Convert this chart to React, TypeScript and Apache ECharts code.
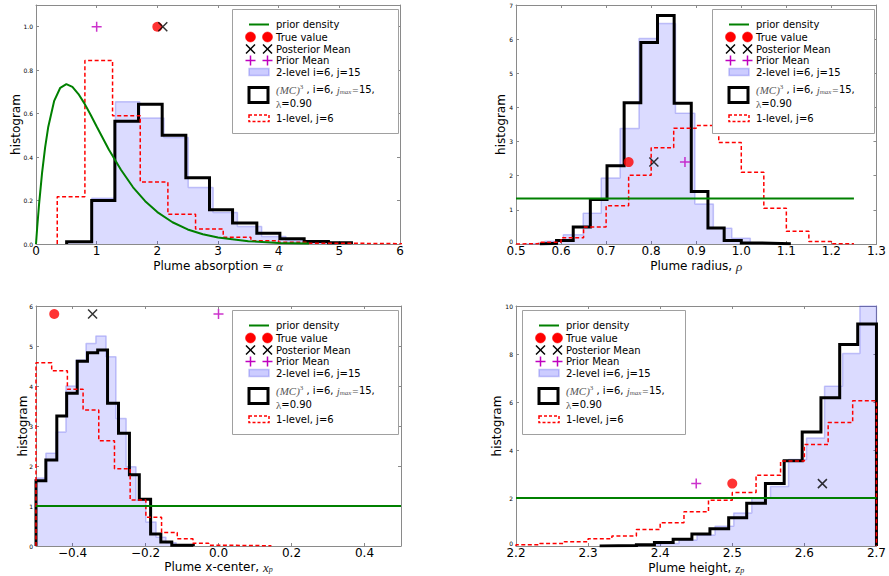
import React, { useEffect, useRef } from "react";
import * as echarts from "echarts";

// ---------------- Panel 1: Plume absorption ----------------
const absXTicks = [0, 1, 2, 3, 4, 5, 6];
const absYTicks = [0, 0.2, 0.4, 0.6, 0.8, 1.0];
const absPriorX = [0, 0.02, 0.05, 0.1, 0.15, 0.2, 0.3, 0.4, 0.5, 0.6, 0.7, 0.8, 0.9, 1.0, 1.2, 1.4, 1.6, 1.8, 2.0, 2.25, 2.5, 2.75, 3.0, 3.5, 4.0, 4.5];
const absPriorY = [0, 0.077, 0.181, 0.327, 0.444, 0.536, 0.659, 0.719, 0.736, 0.723, 0.69, 0.646, 0.595, 0.541, 0.435, 0.342, 0.261, 0.197, 0.147, 0.1, 0.067, 0.045, 0.03, 0.013, 0.005, 0.002];
const absBlueEdges = [0.52, 0.918, 1.31, 1.71, 2.11, 2.51, 2.92, 3.32, 3.72, 4.12, 4.52, 4.92];
const absBlueH = [0.01, 0.21, 0.655, 0.58, 0.49, 0.26, 0.145, 0.08, 0.035, 0.015, 0.005];
const absBlackEdges = [0.505, 0.918, 1.3, 1.69, 2.08, 2.47, 2.86, 3.24, 3.64, 4.02, 4.42, 4.82, 5.2];
const absBlackH = [0.01, 0.2, 0.565, 0.643, 0.5, 0.305, 0.158, 0.097, 0.05, 0.024, 0.012, 0.006];
const absRedEdges = [0.35, 0.806, 1.262, 1.718, 2.174, 2.63, 3.086, 3.542, 3.998, 4.454, 4.91, 5.366, 5.822, 6.278];
const absRedH = [0.217, 0.845, 0.59, 0.285, 0.137, 0.069, 0.031, 0.015, 0.008, 0.004, 0.003, 0.002, 0.001];
const absTrue = [2.0, 1.0];
const absPost = [2.09, 1.0];
const absPriorMean = [1.0, 1.0];

// ---------------- Panel 2: Plume radius ----------------
const radXTicks = [0.5, 0.6, 0.7, 0.8, 0.9, 1.0, 1.1, 1.2, 1.3];
const radYTicks = [0, 1, 2, 3, 4, 5, 6, 7];
const radPriorX = [0.5, 1.25];
const radPriorY = [1.333, 1.333];
const radBlueEdges = [0.523, 0.564, 0.605, 0.649, 0.689, 0.731, 0.773, 0.814, 0.854, 0.897, 0.938, 0.979, 1.02, 1.06];
const radBlueH = [0.02, 0.08, 0.27, 0.9, 1.93, 3.38, 6.02, 6.46, 3.83, 1.17, 0.46, 0.17, 0.04];
const radBlackEdges = [0.553, 0.59, 0.627, 0.665, 0.702, 0.74, 0.777, 0.814, 0.851, 0.889, 0.926, 0.962, 1.0, 1.037, 1.11];
const radBlackH = [0.02, 0.1, 0.5, 1.3, 2.29, 4.14, 5.9, 6.69, 4.12, 1.54, 0.47, 0.1, 0.03, 0.01];
const radRedEdges = [0.5, 0.55, 0.6, 0.65, 0.7, 0.75, 0.8, 0.85, 0.9, 0.95, 1.0, 1.05, 1.1, 1.15, 1.2, 1.25];
const radRedH = [0.01, 0.05, 0.18, 0.5, 1.12, 2.01, 2.82, 3.39, 3.47, 2.97, 2.1, 1.05, 0.37, 0.07, 0.01];
const radTrue = [0.75, 2.4];
const radPost = [0.806, 2.4];
const radPriorMean = [0.875, 2.4];

// ---------------- Panel 3: Plume x-center ----------------
const xcXTicks = [-0.4, -0.2, 0.0, 0.2, 0.4];
const xcYTicks = [0, 1, 2, 3, 4, 5, 6];
const xcPriorX = [-0.5, 0.5];
const xcPriorY = [1.0, 1.0];
const xcBlueEdges = [-0.5, -0.473, -0.445, -0.418, -0.39, -0.363, -0.336, -0.308, -0.281, -0.253, -0.226, -0.199, -0.171, -0.144, -0.116, -0.089];
const xcBlueH = [1.7, 2.32, 2.85, 4.0, 4.65, 5.06, 5.25, 4.73, 3.19, 1.98, 1.15, 0.6, 0.22, 0.08, 0.02];
const xcBlackEdges = [-0.5, -0.473, -0.443, -0.416, -0.387, -0.359, -0.331, -0.304, -0.274, -0.244, -0.217, -0.186, -0.158, -0.128, -0.069];
const xcBlackH = [1.63, 2.15, 3.25, 3.82, 4.62, 4.83, 4.9, 3.57, 2.82, 1.78, 1.17, 0.3, 0.1, 0.02];
const xcRedEdges = [-0.5, -0.457, -0.414, -0.371, -0.328, -0.285, -0.242, -0.199, -0.156, -0.113, -0.07, -0.027, 0.016, 0.059, 0.102, 0.145];
const xcRedH = [4.58, 4.38, 3.92, 3.4, 2.63, 1.93, 1.15, 0.72, 0.34, 0.18, 0.07, 0.02, 0.015, 0.01, 0.008];
const xcTrue = [-0.45, 5.8];
const xcPost = [-0.345, 5.8];
const xcPriorMean = [0.0, 5.8];

// ---------------- Panel 4: Plume height ----------------
const htXTicks = [2.2, 2.3, 2.4, 2.5, 2.6, 2.7];
const htYTicks = [0, 2, 4, 6, 8, 10];
const htPriorX = [2.2, 2.7];
const htPriorY = [2.0, 2.0];
const htBlueEdges = [2.351, 2.376, 2.401, 2.426, 2.451, 2.476, 2.502, 2.527, 2.553, 2.578, 2.603, 2.628, 2.653, 2.677, 2.7];
const htBlueH = [0.02, 0.05, 0.1, 0.25, 0.46, 0.82, 1.38, 2.0, 2.48, 3.6, 4.5, 6.66, 8.02, 10.0];
const htBlackEdges = [2.316, 2.342, 2.367, 2.392, 2.418, 2.444, 2.469, 2.495, 2.52, 2.546, 2.572, 2.597, 2.623, 2.649, 2.674, 2.7];
const htBlackH = [0.01, 0.02, 0.05, 0.15, 0.28, 0.5, 0.72, 1.18, 1.78, 2.6, 3.55, 4.75, 6.18, 8.4, 9.25];
const htRedEdges = [2.2, 2.233, 2.267, 2.3, 2.333, 2.367, 2.4, 2.433, 2.467, 2.5, 2.533, 2.567, 2.6, 2.633, 2.667, 2.7];
const htRedH = [0.05, 0.1, 0.18, 0.3, 0.42, 0.69, 0.97, 1.43, 1.91, 2.23, 2.95, 3.54, 4.23, 5.15, 6.05];
const htTrue = [2.5, 2.6];
const htPost = [2.625, 2.6];
const htPriorMean = [2.45, 2.6];

// ---------------- Legend texts ----------------
const legendLabels = ["prior density", "True value", "Posterior Mean", "Prior Mean", "2-level i=6, j=15", "λ=0.90", "1-level, j=6"];

const FONT = "'DejaVu Sans', 'Bitstream Vera Sans', sans-serif";
const MATH = "'Liberation Serif', 'DejaVu Serif', serif";
const FRAME = "#8a8a8a";
const GREEN = "#008000";
const RED = "#ff0000";
const MAGENTA = "#bf00bf";
const BLUE_FILL = "rgba(0,0,255,0.2)";
const BLUE_EDGE = "rgba(60,60,230,0.28)";

function stepPts(edges: number[], h: number[]) {
  const pts: number[][] = [[edges[0], 0]];
  for (let i = 0; i < h.length; i++) {
    pts.push([edges[i], h[i]]);
    pts.push([edges[i + 1], h[i]]);
  }
  pts.push([edges[h.length], 0]);
  return pts;
}
function zip(xs: number[], ys: number[]) {
  return xs.map((x, i) => [x, ys[i]]);
}
const minus = (s: string) => s.replace("-", "\u2212");

const mathRich = {
  i: { fontFamily: MATH, fontStyle: "italic", fontSize: 13, color: "#222", lineHeight: 12, verticalAlign: "middle" },
  s: { fontFamily: MATH, fontStyle: "italic", fontSize: 8, color: "#222", lineHeight: 6, verticalAlign: "bottom" },
};

const panels = [
  {
    grid: { left: 36, top: 5, width: 364, height: 239 },
    x: [0, 6], y: [0, 1.1], xTicks: absXTicks, yTicks: absYTicks, liftZero: false,
    xFmt: (v: number) => String(Math.round(v)), yFmt: (v: number) => v.toFixed(1),
    xName: "Plume absorption = {i|α}", xGap: 16, yGap: 14,
    prior: zip(absPriorX, absPriorY),
    blue: stepPts(absBlueEdges, absBlueH), black: stepPts(absBlackEdges, absBlackH), red: stepPts(absRedEdges, absRedH),
    tr: absTrue, po: absPost, pm: absPriorMean, legend: [232, 9, 166],
  },
  {
    grid: { left: 516, top: 5, width: 363, height: 239 },
    x: [0.5, 1.3], y: [0, 7], xTicks: radXTicks, yTicks: radYTicks, liftZero: true,
    xFmt: (v: number) => v.toFixed(1), yFmt: (v: number) => String(Math.round(v)),
    xName: "Plume radius, {i|ρ}", xGap: 16, yGap: 9,
    prior: zip(radPriorX, radPriorY),
    blue: stepPts(radBlueEdges, radBlueH), black: stepPts(radBlackEdges, radBlackH), red: stepPts(radRedEdges, radRedH),
    tr: radTrue, po: radPost, pm: radPriorMean, legend: [712, 9, 162],
  },
  {
    grid: { left: 36, top: 306, width: 365, height: 240 },
    x: [-0.5, 0.5], y: [0, 6], xTicks: xcXTicks, yTicks: xcYTicks, liftZero: false,
    xFmt: (v: number) => minus(v.toFixed(1)), yFmt: (v: number) => String(Math.round(v)),
    xName: "Plume x-center, {i|x}{s|p}", xGap: 15, yGap: 7.5,
    prior: zip(xcPriorX, xcPriorY),
    blue: stepPts(xcBlueEdges, xcBlueH), black: stepPts(xcBlackEdges, xcBlackH), red: stepPts(xcRedEdges, xcRedH),
    tr: xcTrue, po: xcPost, pm: xcPriorMean, legend: [232, 310, 166],
  },
  {
    grid: { left: 516, top: 306, width: 363, height: 240 },
    x: [2.2, 2.7], y: [0, 10], xTicks: htXTicks, yTicks: htYTicks, liftZero: true,
    xFmt: (v: number) => v.toFixed(1), yFmt: (v: number) => String(Math.round(v)),
    xName: "Plume height, {i|z}{s|p}", xGap: 16, yGap: 13,
    prior: zip(htPriorX, htPriorY),
    blue: stepPts(htBlueEdges, htBlueH), black: stepPts(htBlackEdges, htBlackH), red: stepPts(htRedEdges, htRedH),
    tr: htTrue, po: htPost, pm: htPriorMean, legend: [522, 310, 163],
  },
];

const X_PATH = "path://M0,0L10,10M10,0L0,10";
const PLUS_PATH = "path://M5,0L5,10M0,5L10,5";

function legendEls(bx: number, by: number, w: number) {
  const hx1 = bx + 17, hx2 = bx + 37, tx = bx + 44;
  const m1 = bx + 18.5, m2 = bx + 35.5;
  const els: any[] = [];
  const z = 100;
  const txt = (t: string, y: number) => ({
    type: "text", z: z + 1, x: tx, y: by + y,
    style: { text: t, fill: "#000", fontSize: 10, lineHeight: 11, fontFamily: FONT, align: "left", verticalAlign: "middle", textAlign: "left", textVerticalAlign: "middle" },
  });
  els.push({ type: "rect", z, shape: { x: bx + 0.5, y: by + 0.5, width: w, height: 124 }, style: { fill: "#fff", stroke: "#a0a0a0", lineWidth: 1 } });
  els.push({ type: "line", z: z + 1, shape: { x1: hx1, y1: by + 15.5, x2: hx2, y2: by + 15.5 }, style: { stroke: GREEN, lineWidth: 2 } });
  els.push(txt(legendLabels[0], 15.5));
  for (const mx of [m1, m2]) els.push({ type: "circle", z: z + 1, shape: { cx: mx, cy: by + 28, r: 5 }, style: { fill: RED, stroke: RED, lineWidth: 0.5 } });
  els.push(txt(legendLabels[1], 28));
  for (const mx of [m1, m2]) {
    const cy = by + 40, d = 4.5;
    els.push({ type: "line", z: z + 1, shape: { x1: mx - d, y1: cy - d, x2: mx + d, y2: cy + d }, style: { stroke: "#000", lineWidth: 1.5 } });
    els.push({ type: "line", z: z + 1, shape: { x1: mx - d, y1: cy + d, x2: mx + d, y2: cy - d }, style: { stroke: "#000", lineWidth: 1.5 } });
  }
  els.push(txt(legendLabels[2], 40));
  for (const mx of [m1, m2]) {
    const cy = by + 51.5, d = 5;
    els.push({ type: "line", z: z + 1, shape: { x1: mx - d, y1: cy, x2: mx + d, y2: cy }, style: { stroke: MAGENTA, lineWidth: 1.5 } });
    els.push({ type: "line", z: z + 1, shape: { x1: mx, y1: cy - d, x2: mx, y2: cy + d }, style: { stroke: MAGENTA, lineWidth: 1.5 } });
  }
  els.push(txt(legendLabels[3], 51.5));
  els.push({ type: "rect", z: z + 1, shape: { x: hx1, y: by + 59.5, width: 20, height: 7 }, style: { fill: BLUE_FILL, stroke: BLUE_EDGE, lineWidth: 1.5 } });
  els.push(txt(legendLabels[4], 63));
  els.push({ type: "rect", z: z + 1, shape: { x: hx1, y: by + 78.5, width: 19, height: 15 }, style: { fill: "#fff", stroke: "#000", lineWidth: 3 } });
  els.push({
    type: "text", z: z + 1, x: tx, y: by + 80.5,
    style: {
      text: "{m|(MC)}{sup|3} , i=6, {m|j}{sub|max}{m|=}15,",
      fill: "#000", fontSize: 10, fontFamily: FONT, align: "left", verticalAlign: "middle", textAlign: "left", textVerticalAlign: "middle",
      rich: {
        m: { fontFamily: MATH, fontStyle: "italic", fontSize: 11, fill: "#555", lineHeight: 12, verticalAlign: "middle" },
        sup: { fontFamily: MATH, fontSize: 7, fill: "#555", lineHeight: 6, verticalAlign: "top" },
        sub: { fontFamily: MATH, fontStyle: "italic", fontSize: 7, fill: "#555", lineHeight: 6, verticalAlign: "bottom" },
      },
    },
  });
  els.push({
    type: "text", z: z + 1, x: tx, y: by + 94.5,
    style: {
      text: "{m|λ}=0.90", fill: "#000", fontSize: 10, lineHeight: 11, fontFamily: FONT, align: "left", verticalAlign: "middle", textAlign: "left", textVerticalAlign: "middle",
      rich: { m: { fontFamily: MATH, fontSize: 11, lineHeight: 11, fill: "#555" } },
    },
  });
  els.push({ type: "rect", z: z + 1, shape: { x: hx1, y: by + 106, width: 20, height: 6.5 }, style: { fill: "#fff", stroke: RED, lineWidth: 1.5, lineDash: [3, 2] } });
  els.push(txt(legendLabels[6], 109));
  return els;
}

function buildOption() {
  const grid: any[] = [];
  const xAxis: any[] = [];
  const yAxis: any[] = [];
  const series: any[] = [];
  const graphic: any[] = [];
  panels.forEach((p, i) => {
    grid.push({ ...p.grid, containLabel: false });
    const line = { show: true, onZero: false, lineStyle: { color: FRAME, width: 1 } };
    const tick = (vals: number[]) => ({ show: true, inside: true, length: 3, customValues: vals, lineStyle: { color: FRAME, width: 1 } });
    xAxis.push({
      type: "value", gridIndex: i, position: "bottom", min: p.x[0], max: p.x[1],
      axisLine: line, axisTick: tick(p.xTicks), splitLine: { show: false },
      axisLabel: { customValues: p.xTicks, formatter: p.xFmt, fontSize: 12, lineHeight: 10, fontFamily: FONT, color: "#000", margin: 2, showMinLabel: true, showMaxLabel: true, hideOverlap: false },
      name: p.xName, nameLocation: "middle", nameGap: p.xGap, nameMoveOverlap: false,
      nameTextStyle: { fontSize: 12, fontFamily: FONT, color: "#000", lineHeight: 12, rich: mathRich },
    });
    xAxis.push({
      type: "value", gridIndex: i, position: "top", min: p.x[0], max: p.x[1],
      axisLine: line, axisTick: tick(p.xTicks), axisLabel: { show: false }, splitLine: { show: false },
    });
    const yFmt = p.yFmt;
    const lift = p.liftZero;
    yAxis.push({
      type: "value", gridIndex: i, position: "left", min: p.y[0], max: p.y[1],
      axisLine: line, axisTick: tick(p.yTicks), splitLine: { show: false },
      axisLabel: {
        customValues: p.yTicks,
        formatter: (v: number) => (lift && v === p.y[0] ? `{z|${yFmt(v)}}` : yFmt(v)),
        rich: { z: { fontSize: 6, fontFamily: FONT, color: "#000", lineHeight: 7, padding: [0, 0, 5, 0] } },
        fontSize: 6, lineHeight: 7, fontFamily: FONT, color: "#000", margin: 3, showMinLabel: true, showMaxLabel: true, hideOverlap: false,
      },
      name: "histogram", nameLocation: "middle", nameGap: p.yGap, nameMoveOverlap: false,
      nameTextStyle: { fontSize: 12, fontFamily: FONT, color: "#000" },
    });
    yAxis.push({
      type: "value", gridIndex: i, position: "right", min: p.y[0], max: p.y[1],
      axisLine: line, axisTick: tick(p.yTicks), axisLabel: { show: false }, splitLine: { show: false },
    });
    const ax = { xAxisIndex: 2 * i, yAxisIndex: 2 * i };
    series.push({
      type: "line", ...ax, data: p.blue, symbol: "none", z: 1,
      lineStyle: { color: BLUE_EDGE, width: 1.5 }, areaStyle: { color: BLUE_FILL, origin: "start" },
    });
    series.push({ type: "line", ...ax, data: p.black, symbol: "none", z: 2, lineStyle: { color: "#000", width: 3, join: "miter" } });
    series.push({ type: "line", ...ax, data: p.red, symbol: "none", z: 3, lineStyle: { color: RED, width: 1.5, type: [4, 2.5] } });
    series.push({ type: "line", ...ax, data: p.prior, symbol: "none", z: 4, smooth: false, lineStyle: { color: GREEN, width: 2 } });
    series.push({ type: "scatter", ...ax, data: [p.tr], symbol: "circle", symbolSize: 10, z: 5, itemStyle: { color: RED } });
    series.push({ type: "scatter", ...ax, data: [p.po], symbol: X_PATH, symbolSize: 9, z: 6, itemStyle: { color: "none", borderColor: "#000", borderWidth: 1.5 } });
    series.push({ type: "scatter", ...ax, data: [p.pm], symbol: PLUS_PATH, symbolSize: 10, z: 6, itemStyle: { color: "none", borderColor: MAGENTA, borderWidth: 1.5 } });
    graphic.push(...legendEls(p.legend[0], p.legend[1], p.legend[2]));
  });
  return { animation: false, backgroundColor: "#fff", grid, xAxis, yAxis, series, graphic };
}

export default function App() {
  const ref = useRef<HTMLDivElement>(null);
  useEffect(() => {
    if (!ref.current) return;
    const chart = echarts.init(ref.current, null, { renderer: "svg" });
    chart.setOption(buildOption() as any);
    return () => chart.dispose();
  }, []);
  return <div ref={ref} style={{ position: "absolute", left: 0, top: 0, width: 889, height: 576 }} />;
}
